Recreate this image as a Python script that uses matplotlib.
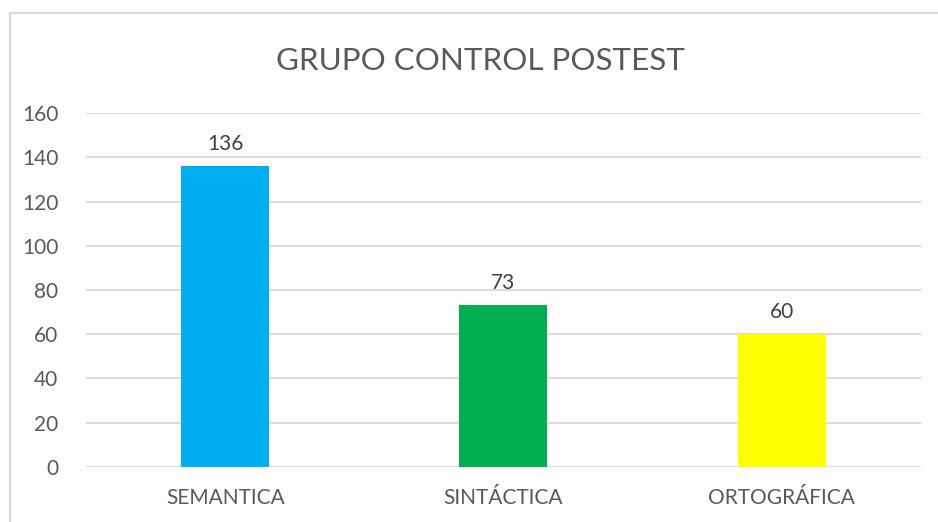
import matplotlib.pyplot as plt
from matplotlib.lines import Line2D

categorias = ['SEMANTICA', 'SINTÁCTICA', 'ORTOGRÁFICA']
valores = [136, 73, 60]
colores = ['#00B0F0', '#00B050', '#FFFF00']
yticks = [0, 20, 40, 60, 80, 100, 120, 140, 160]

plt.rcParams['font.family'] = ['Lato', 'DejaVu Sans']

fig = plt.figure(figsize=(9.38, 5.22), dpi=100)
ax = fig.add_axes([0.0917, 0.1054, 0.890, 0.6781])

x = range(len(categorias))
barras = ax.bar(x, valores, width=0.316, color=colores, zorder=3)
for b, v in zip(barras, valores):
    ax.annotate(str(v), (b.get_x() + b.get_width() / 2, v), xytext=(0, 9),
                textcoords='offset points', ha='center', va='bottom',
                fontsize=15, color='#404040')

ax.set_xlim(-0.5, 2.5)
ax.set_ylim(0, 160)
ax.set_yticks(yticks)
ax.set_xticks(list(x))
ax.set_xticklabels(categorias)
ax.grid(axis='y', color='#D9D9D9', linewidth=1.3, zorder=0)
for s in ax.spines.values():
    s.set_visible(False)
ax.tick_params(axis='both', length=0, labelsize=15, colors='#595959')
ax.tick_params(axis='y', pad=20)
ax.tick_params(axis='x', pad=15)

fig.suptitle('GRUPO CONTROL POSTEST', x=0.512, y=0.91, fontsize=22.6, color='#595959')

# marco del gráfico
fig.add_artist(Line2D([10/938, 10/938], [0, 1 - 13/522], color='#D9D9D9', lw=1.5))
fig.add_artist(Line2D([10/938, 1], [1 - 13/522, 1 - 13/522], color='#D9D9D9', lw=1.5))

plt.savefig('out.png')
